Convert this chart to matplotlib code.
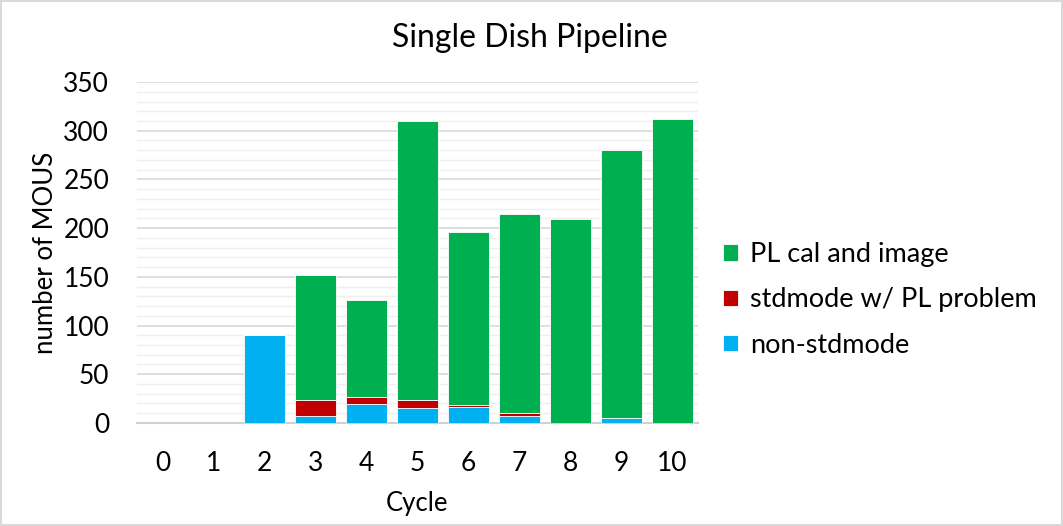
import matplotlib
matplotlib.use("Agg")
import matplotlib.pyplot as plt
from matplotlib.ticker import MultipleLocator
import numpy as np

plt.rcParams["font.family"] = ["Lato", "DejaVu Sans"]

cycles = ["0", "1", "2", "3", "4", "5", "6", "7", "8", "9", "10"]
non_std = [0, 0, 90, 7, 19, 15, 16, 7, 0, 5, 0]
std_pl_problem = [0, 0, 0, 17, 8, 9, 2, 3, 0, 0, 0]
pl_cal_image = [0, 0, 0, 128, 99, 286, 178, 205, 209, 275, 312]

fig = plt.figure(figsize=(10.63, 5.26), dpi=100)
fig.patch.set_edgecolor("#d9d9d9")
fig.patch.set_linewidth(1.5)
ax = fig.add_axes([0.1289, 0.196, 0.5277, 0.648])

x = np.arange(len(cycles))
w = 0.8
b1 = ax.bar(x, non_std, w, color="#00B0F0", edgecolor="white", linewidth=0.6,
            label="non-stdmode", zorder=3)
b2 = ax.bar(x, std_pl_problem, w, bottom=non_std, color="#C00000",
            edgecolor="white", linewidth=0.6, label="stdmode w/ PL problem", zorder=3)
bottom2 = np.array(non_std) + np.array(std_pl_problem)
b3 = ax.bar(x, pl_cal_image, w, bottom=bottom2, color="#00B050",
            edgecolor="white", linewidth=0.6, label="PL cal and image", zorder=3)

ax.set_xlim(-0.5, 10.5)
ax.set_ylim(0, 350)
ax.set_xticks(x)
ax.set_xticklabels(cycles)
ax.yaxis.set_major_locator(MultipleLocator(50))
ax.yaxis.set_minor_locator(MultipleLocator(10))
ax.grid(axis="y", which="major", color="#d9d9d9", linewidth=1.2, zorder=0)
ax.grid(axis="y", which="minor", color="#efefef", linewidth=1.0, zorder=0)
ax.set_axisbelow(True)

for s in ["top", "right", "left"]:
    ax.spines[s].set_visible(False)
ax.spines["bottom"].set_color("#d0d0d0")
ax.spines["bottom"].set_linewidth(1.5)
ax.tick_params(axis="both", which="both", length=0, labelsize=19, colors="black")
ax.tick_params(axis="x", pad=20)
ax.tick_params(axis="y", pad=20)

ax.set_xlabel("Cycle", fontsize=18.5, labelpad=11)
ax.set_ylabel("number of MOUS", fontsize=18.5, labelpad=4)
fig.text(0.4986, 0.928, "Single Dish Pipeline", ha="center", va="center", fontsize=23)

handles = [b3, b2, b1]
labels = [h.get_label() for h in handles]
leg = fig.legend(handles, labels, loc="center left", bbox_to_anchor=(0.657, 0.43),
                 frameon=False, fontsize=19.5, handlelength=0.55, handleheight=0.55,
                 handletextpad=0.45, labelspacing=0.75)

fig.savefig("out.png", dpi=100)
